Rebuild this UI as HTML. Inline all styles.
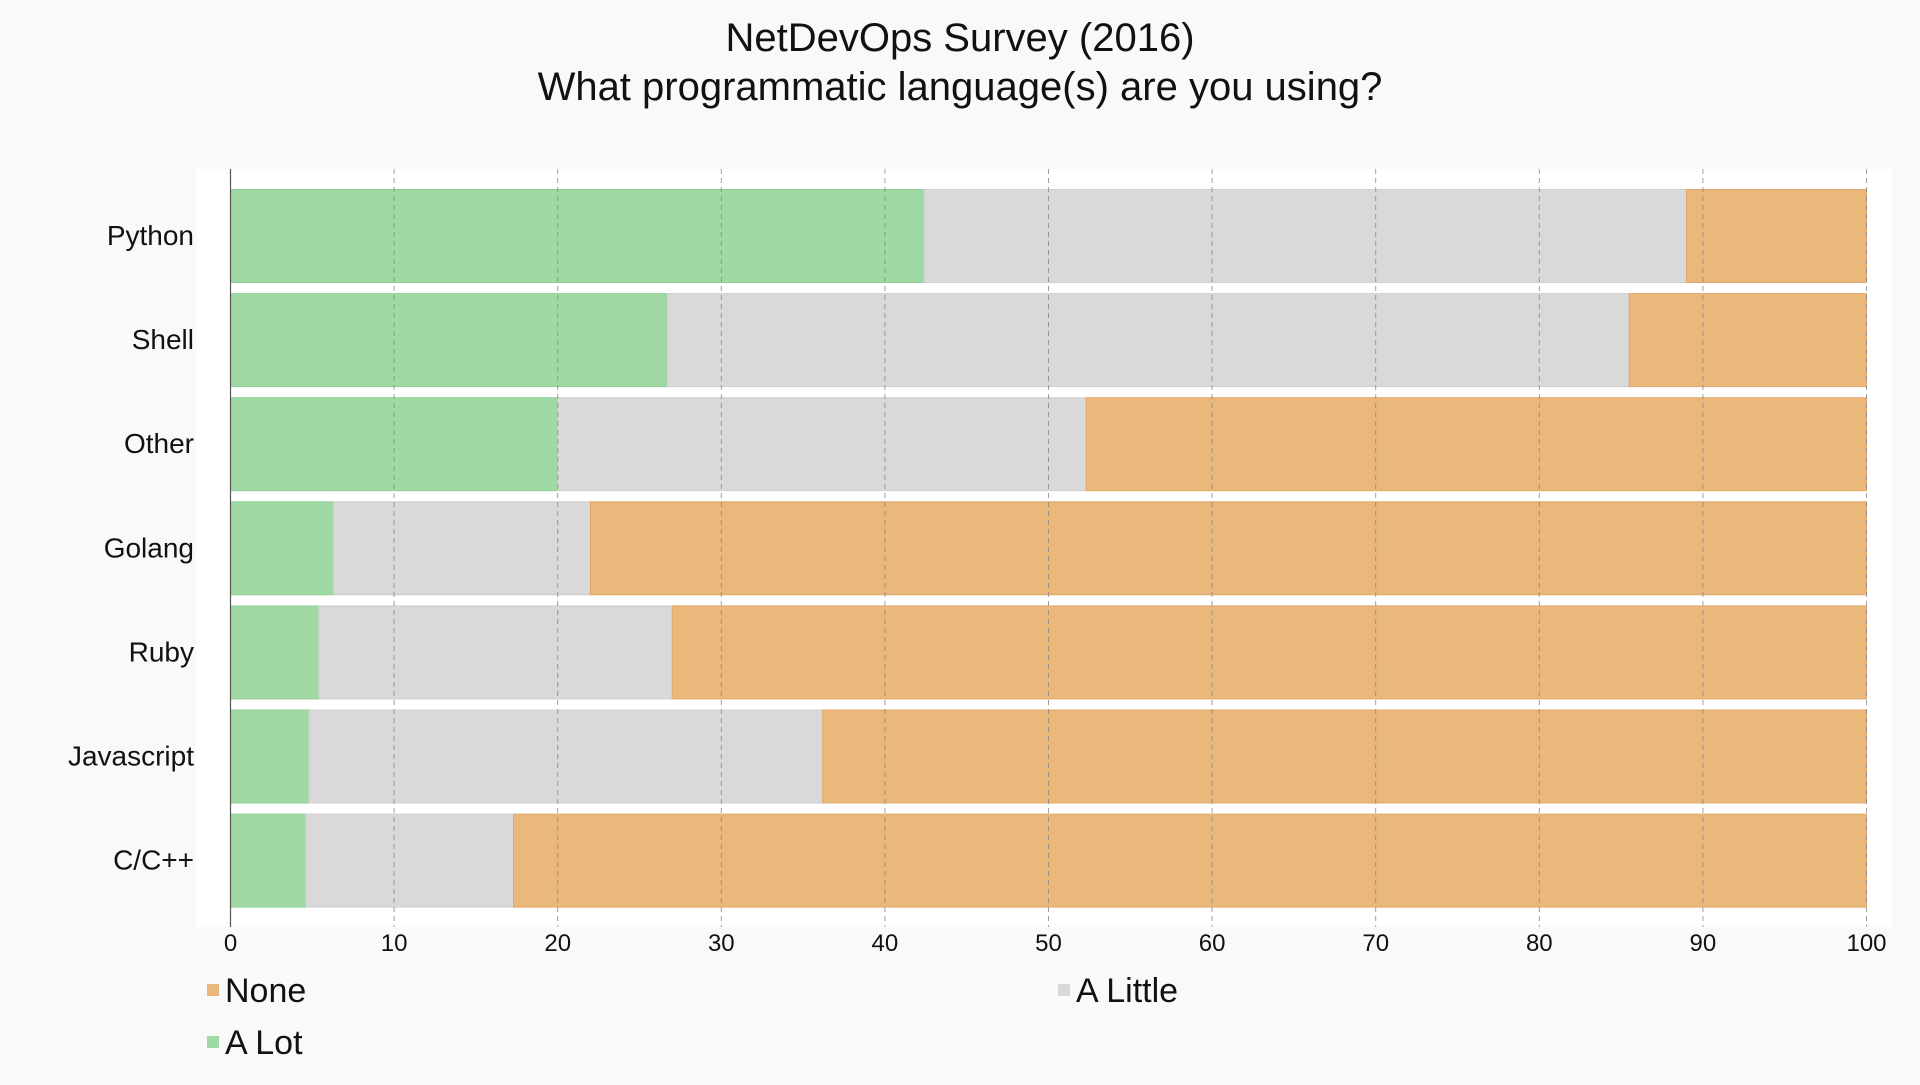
<!DOCTYPE html>
<html><head><meta charset="utf-8"><style>
body{margin:0;background:#f9f9f9;font-family:"Liberation Sans",sans-serif;}
</style></head><body>
<svg width="1920" height="1080" xmlns="http://www.w3.org/2000/svg" id="chart">
<rect width="1920" height="1080" fill="#f9f9f9"/>
<text x="960" y="51" text-anchor="middle" font-size="40" fill="#111">NetDevOps Survey (2016)</text>
<text x="960" y="100" text-anchor="middle" font-size="40" fill="#111">What programmatic language(s) are you using?</text>
<rect x="196" y="169" width="1696" height="758" fill="#fff"/>
<g id="bars"></g><g id="grid"></g><g id="ylabels"></g><g id="xticks"></g>
<line x1="230.5" y1="169" x2="230.5" y2="927" stroke="#555" stroke-width="1.2"/>
<g>
<rect x="207" y="984" width="12" height="12" fill="#ebb87b"/>
<text x="225" y="1002" font-size="34" fill="#111">None</text>
<rect x="1058" y="984" width="12" height="12" fill="#d9d9d9"/>
<text x="1076" y="1002" font-size="34" fill="#111">A Little</text>
<rect x="207" y="1036" width="12" height="12" fill="#a0d9a4"/>
<text x="225" y="1054" font-size="34" fill="#111">A Lot</text>
</g>
</svg>
<script>
const categories=["Python","Shell","Other","Golang","Ruby","Javascript","C/C++"];
const aLot=[42.4,26.7,20,6.3,5.4,4.8,4.6];
const aLittle=[46.6,58.8,32.3,15.7,21.6,31.4,12.7];
const none=[11,14.5,47.7,78,73,63.8,82.7];
const xTicks=[0,10,20,30,40,50,60,70,80,90,100];
const NS="http://www.w3.org/2000/svg";
const X0=230.5,X1=1866.5,Y0=189.5,STEP=104.1,BH=93;
const xs=v=>X0+(X1-X0)*v/100;
const ys=i=>Y0+i*STEP;
function mk(t,a,p){const e=document.createElementNS(NS,t);for(const k in a)e.setAttribute(k,a[k]);document.getElementById(p).appendChild(e);return e;}
xTicks.forEach(t=>{
 const l=mk('line',{x1:xs(t),x2:xs(t),y1:169,y2:927,stroke:'#888','stroke-dasharray':'5,4','stroke-width':1,opacity:0.8},'grid');
 
 
 const tx=mk('text',{x:xs(t),y:951,'text-anchor':'middle','font-size':24,fill:'#111'},'xticks');
 tx.textContent=t;
 
 
});
categories.forEach((c,i)=>{
 const y=ys(i);
 const segs=[[0,aLot[i],'#a0d9a4','#8fcf94','a-lot'],[aLot[i],aLittle[i],'#d9d9d9','#cfcfcf','a-little'],[aLot[i]+aLittle[i],none[i],'#ebb87b','#e0a868','none']];
 segs.forEach(s=>{
  const r=mk('rect',{x:xs(s[0]),y:y,width:xs(s[0]+s[1])-xs(s[0]),height:BH,fill:s[2],stroke:s[3],'stroke-width':1},'bars');
  
  
 });
 const t=mk('text',{x:194,y:y+BH/2+9,'text-anchor':'end','font-size':28,fill:'#111'},'ylabels');
 t.textContent=c;
 
 
});
</script>
</body></html>
